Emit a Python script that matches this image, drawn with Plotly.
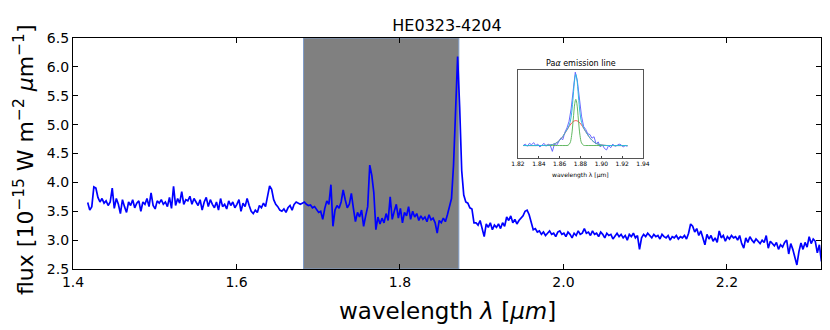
import numpy as np
import plotly.graph_objects as go

# ---------------- main spectrum ----------------
wl_start = 1.418
wl_step = 0.0025

flux_a = [3.65,3.52,3.58,3.92,3.90,3.74,3.66,3.72,3.64,3.68,
          3.60,3.66,3.90,3.55,3.72,3.62,3.46,3.70,3.58,3.48,
          3.66,3.60,3.70,3.56,3.64,3.68,3.50,3.66,3.62,3.72,
          3.58,3.82,3.60,3.54,3.68,3.64,3.70,3.62,3.66,3.58,
          3.74,3.55,3.93,3.60,3.72,3.64,3.84,3.62,3.70,3.68,
          3.76,3.62,3.72,3.66,3.60,3.70,3.52,3.66,3.74,3.58,
          3.70,3.62,3.56,3.66,3.52,3.72,3.58,3.62,3.54,3.68,
          3.60,3.66,3.56,3.62,3.70,3.50,3.64,3.58,3.72,3.60,
          3.50,3.46,3.52,3.48,3.60,3.56,3.64,3.58,3.76,3.94,
          3.88,3.70,3.62,3.58,3.52,3.50,3.54,3.48,3.56,3.60,
          3.52,3.62,3.66,3.64,3.62]
flux_b = [3.64,3.66,3.62,3.60,3.61,3.56,3.58,3.52,3.48,3.50,
          3.36,3.55,3.68,3.62,3.96,3.24,3.52,3.60,3.55,3.66,
          3.87,3.70,3.56,3.62,3.81,3.55,3.32,3.48,3.40,3.52,
          3.24,3.42,3.58,4.30,4.12,3.82,3.18,3.40,3.28,3.38,
          3.30,3.46,3.34,3.75,3.36,3.50,3.62,3.38,3.55,3.30,
          3.48,3.42,3.58,3.36,3.50,3.40,3.46,3.34,3.42,3.36,
          3.40,3.32,3.44,3.35,3.38,3.30,3.12,3.34,3.30,3.38,
          3.32,3.44,3.56,3.72,4.30,5.40,6.18]
flux_c = [5.30,4.20,3.78,3.66,3.64,3.56,3.54,3.30,
          3.30,3.26,3.34,3.20,3.06,3.28,3.22,3.30,3.18,3.26,
          3.22,3.28,3.20,3.30,3.24,3.40,3.34,3.42,3.30,3.36,
          3.28,3.34,3.38,3.42,3.50,3.52,3.44,3.30,3.18,3.20,
          3.14,3.16,3.10,3.14,3.08,3.12,3.16,3.10,3.12,3.06,
          3.14,3.16,3.10,3.12,3.06,3.14,3.10,3.04,3.12,3.08,
          3.16,3.10,3.12,3.20,3.12,3.14,3.08,3.16,3.10,3.12,
          3.06,3.14,3.10,3.04,3.12,3.08,3.10,3.02,3.08,3.12,
          3.06,3.10,3.04,3.08,3.00,3.10,3.06,3.12,3.04,3.08,
          2.84,3.04,3.10,3.06,3.12,3.08,3.04,3.10,3.06,3.08,
          3.02,3.10,3.06,3.04,3.08,3.00,3.06,3.04,3.08,3.02,
          3.06,3.04,3.08,3.02,3.12,3.28,3.24,3.14,3.20,3.08,
          3.16,3.04,2.92,3.10,3.02,3.08,2.98,3.04,2.96,3.16,
          3.04,3.08,2.98,3.06,3.02,3.08,3.04,3.06,3.00,3.08,
          2.94,2.86,3.04,2.96,3.06,3.00,2.96,3.02,2.98,2.94,
          3.00,2.96,3.08,2.86,2.98,2.94,2.90,2.96,2.84,2.92,
          2.88,2.96,3.00,2.76,2.94,2.84,2.70,2.57,2.80,2.95,
          2.84,2.96,2.88,3.06,2.94,3.02,2.98,2.78,2.92,2.63]
flux = flux_a + flux_b + flux_c
wavelength = np.round(wl_start + wl_step * np.arange(len(flux)), 5)

masked_region = [1.682, 1.872]
x_ticks = [1.4, 1.6, 1.8, 2.0, 2.2]
y_ticks = [2.5, 3.0, 3.5, 4.0, 4.5, 5.0, 5.5, 6.0, 6.5]

# ---------------- inset: Pa-alpha ----------------
ins_wl = [1.825,1.827,1.829,1.831,1.833,1.835,1.837,1.839,1.841,1.843,
          1.845,1.847,1.849,1.851,1.853,1.855,1.857,1.859,1.861,1.863,
          1.865,1.867,1.869,1.871,1.873,1.875,1.877,1.879,1.881,1.883,
          1.885,1.887,1.889,1.891,1.893,1.895,1.897,1.899,1.901,1.903,
          1.905,1.907,1.909,1.911,1.913,1.915,1.917,1.919,1.921,1.923,1.925]
ins_flux = [0.00,0.02,-0.01,0.03,0.01,0.04,0.00,0.02,-0.02,0.01,
            0.03,-0.01,0.02,0.00,-0.08,0.02,0.00,0.05,0.10,0.08,
            0.18,0.24,0.33,0.50,0.76,1.00,0.88,0.60,0.40,0.26,
            0.22,0.16,0.15,0.10,0.12,0.02,0.05,-0.02,0.01,-0.04,
            -0.06,0.00,-0.03,0.02,-0.01,0.00,0.02,0.01,-0.02,0.00,-0.01]
fit_wl = [1.825,1.840,1.850,1.856,1.860,1.863,1.866,1.868,1.870,1.8715,
          1.873,1.8745,1.8755,1.8765,1.878,1.8795,1.881,1.883,1.885,1.888,
          1.891,1.895,1.901,1.910,1.925]
fit_broad = [0.0,0.0,0.005,0.029,0.072,0.124,0.190,0.236,0.280,0.307,
             0.327,0.338,0.340,0.338,0.327,0.307,0.280,0.236,0.190,0.124,
             0.072,0.029,0.005,0.0,0.0]
fit_narrow = [0.0,0.0,0.0,0.0,0.0,0.0,0.0,0.003,0.036,0.139,
              0.349,0.573,0.630,0.573,0.349,0.139,0.036,0.003,0.0,0.0,
              0.0,0.0,0.0,0.0,0.0]
fit_total = [0.0,0.0,0.005,0.029,0.072,0.124,0.190,0.239,0.316,0.446,
             0.676,0.911,0.970,0.911,0.676,0.446,0.316,0.239,0.190,0.124,
             0.072,0.029,0.005,0.0,0.0]
ins_ticks = [1.82, 1.84, 1.86, 1.88, 1.90, 1.92, 1.94]

# ---------------- figure ----------------
# The page body has an 8px margin, so the figure is offset by 8px.
OFF = 8
W, H = 830 - OFF, 330 - OFF
PL, PR, PT, PB = 73, 821, 38, 269          # plot area in screen pixels
L, R, T, B = PL - OFF, 830 - PR, PT - OFF, 330 - PB
pw, ph = PR - PL, PB - PT

def px_x(x):
    return (x - PL) / pw

def px_y(y):
    return (PB - y) / ph

fig = go.Figure()

fig.add_shape(type="rect", xref="x", yref="y domain", x0=masked_region[0], x1=masked_region[1],
              y0=0, y1=1, fillcolor="#808080", line=dict(color="#7f9cc8", width=1), layer="below")

fig.add_trace(go.Scatter(x=wavelength, y=flux, mode="lines",
                         line=dict(color="#0000ff", width=1.7), xaxis="x", yaxis="y",
                         showlegend=False))

fig.add_trace(go.Scatter(x=ins_wl, y=ins_flux, mode="lines",
                         line=dict(color="#5a5aff", width=0.9), xaxis="x2", yaxis="y2",
                         showlegend=False))
fig.add_trace(go.Scatter(x=fit_wl, y=fit_broad, mode="lines", line_shape="spline",
                         line=dict(color="#ff4040", width=0.9), xaxis="x2", yaxis="y2",
                         showlegend=False))
fig.add_trace(go.Scatter(x=fit_wl, y=fit_narrow, mode="lines", line_shape="spline",
                         line=dict(color="#50b050", width=0.9), xaxis="x2", yaxis="y2",
                         showlegend=False))
fig.add_trace(go.Scatter(x=fit_wl, y=fit_total, mode="lines", line_shape="spline",
                         line=dict(color="#30b8e0", width=1.0), xaxis="x2", yaxis="y2",
                         showlegend=False))

tickfont = dict(family="DejaVu Sans", size=14, color="black")
titlefont = dict(family="DejaVu Sans", size=23, color="black")

fig.update_layout(
    width=W, height=H,
    margin=dict(l=L, r=R, t=T, b=B, pad=0, autoexpand=False),
    paper_bgcolor="white", plot_bgcolor="white",
    title=dict(text="HE0323-4204", x=(PL - OFF + pw / 2) / W, xanchor="center",
               y=1 - (25 - OFF) / H, yanchor="middle",
               font=dict(family="DejaVu Sans", size=16, color="black")),
    xaxis=dict(range=[1.4, 2.315], tickvals=x_ticks, ticktext=[f"{v:.1f}" for v in x_ticks],
               ticks="inside", ticklen=5, tickcolor="black", tickwidth=1,
               showline=True, linecolor="black", linewidth=1.2, mirror="allticks",
               showgrid=False, zeroline=False, tickfont=tickfont, automargin=False),
    yaxis=dict(range=[2.5, 6.5], tickvals=y_ticks, ticktext=[f"{v:.1f}" for v in y_ticks],
               ticks="inside", ticklen=5, tickcolor="black", tickwidth=1,
               showline=True, linecolor="black", linewidth=1.2, mirror="allticks",
               showgrid=False, zeroline=False, tickfont=tickfont, automargin=False),
    xaxis2=dict(domain=[px_x(518), px_x(643)], anchor="y2", range=[1.82, 1.94],
                tickvals=ins_ticks, ticktext=[f"{v:.2f}" for v in ins_ticks],
                ticks="inside", ticklen=2, tickcolor="#444", tickwidth=0.6,
                showline=True, linecolor="#555", linewidth=0.8, mirror=True,
                showgrid=False, zeroline=False, automargin=False,
                tickfont=dict(family="DejaVu Sans", size=6, color="black")),
    yaxis2=dict(domain=[px_y(158), px_y(70)], anchor="x2", range=[-0.17, 1.03],
                showticklabels=False, ticks="", showline=True, linecolor="#555",
                linewidth=0.8, mirror=True, showgrid=False, zeroline=False, automargin=False),
    annotations=[
        dict(text="Pa<i>α</i> emission line", xref="paper", yref="paper",
             x=px_x(580.5), y=px_y(64), xanchor="center", yanchor="middle",
             showarrow=False, font=dict(family="DejaVu Sans", size=8, color="black")),
        dict(text="wavelength λ [μm]", xref="paper", yref="paper",
             x=px_x(580.5), y=px_y(175), xanchor="center", yanchor="middle",
             showarrow=False, font=dict(family="DejaVu Sans", size=6, color="black")),
        dict(text="wavelength <i>λ</i> [<i>μm</i>]", xref="paper", yref="paper",
             x=px_x(447), y=px_y(311), xanchor="center", yanchor="middle",
             showarrow=False, font=titlefont),
        dict(text="flux [10<sup>−15</sup> W m<sup>−2</sup> <i>μ</i>m<sup>−1</sup>]",
             xref="paper", yref="paper", textangle=-90,
             x=px_x(24), y=px_y(160), xanchor="center", yanchor="middle",
             showarrow=False, font=dict(family="DejaVu Sans", size=22, color="black")),
    ],
)

fig.write_html("out.html")
